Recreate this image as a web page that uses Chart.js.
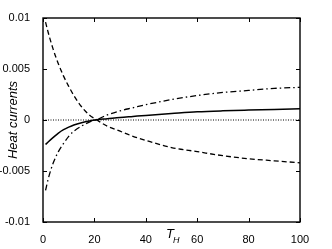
<!DOCTYPE html>
<html>
<head>
<meta charset="utf-8">
<script src="https://cdn.jsdelivr.net/npm/chart.js@4"></script>
<style>
  html, body { margin: 0; padding: 0; background: #fff; }
  #wrap { width: 332px; height: 249px; }
</style>
</head>
<body>
<div id="wrap"><canvas id="myChart" width="332" height="249"></canvas></div>
<script>
// T_H values where the curves were read
const tempH = [1, 2, 4, 6, 8, 10, 12, 15, 18, 21, 25, 30, 35, 40, 50, 60, 70, 80, 90, 100];

// dashed curve
const currDashed = [0.0096, 0.0086, 0.0069, 0.0055, 0.0043, 0.0033, 0.0024, 0.0013, 0.0005, 0.0000,
                    -0.0006, -0.0011, -0.0016, -0.0020, -0.0027, -0.0031, -0.0035, -0.0038, -0.0040, -0.0042];
// solid curve
const currSolid = [-0.0024, -0.00215, -0.0017, -0.00128, -0.00095, -0.0007, -0.00049, -0.00027, -0.0001, 0.00002,
                   0.00012, 0.00025, 0.00035, 0.00045, 0.00063, 0.0008, 0.0009, 0.00097, 0.00103, 0.0011];
// dash-dot curve
const currDashDot = [-0.0069, -0.0058, -0.0042, -0.0031, -0.0023, -0.0016, -0.0011, -0.0006, -0.0002, 0.00005,
                     0.0005, 0.0009, 0.0012, 0.0015, 0.0020, 0.0024, 0.0027, 0.0029, 0.0031, 0.0032];
// dotted zero line
const zeroX = [0, 100];
const zeroY = [0, 0];

const xTicks = [0, 20, 40, 60, 80, 100];
const yTicks = [-0.01, -0.005, 0, 0.005, 0.01];
const yTickLabels = ['-0.01', '-0.005', '0', '0.005', '0.01'];

const fontFam = '"Liberation Sans", Arial, Helvetica, sans-serif';

function pts(xs, ys) {
    return xs.map((x, i) => ({ x: x, y: ys[i] }));
}

// frame, inward ticks and the T_H label
const boxPlugin = {
    id: 'boxPlugin',
    afterDraw(chart) {
        const ctx = chart.ctx;
        const a = chart.chartArea;
        const sx = chart.scales.x, sy = chart.scales.y;
        const tl = 4;
        ctx.save();
        ctx.strokeStyle = '#000';
        ctx.lineWidth = 1.4;
        ctx.setLineDash([]);
        ctx.strokeRect(a.left, a.top, a.right - a.left, a.bottom - a.top);
        ctx.lineWidth = 1;
        ctx.beginPath();
        xTicks.forEach(v => {
            const px = Math.round(sx.getPixelForValue(v)) + 0.5;
            ctx.moveTo(px, a.bottom); ctx.lineTo(px, a.bottom - tl);
            ctx.moveTo(px, a.top); ctx.lineTo(px, a.top + tl);
        });
        yTicks.forEach(v => {
            const py = Math.round(sy.getPixelForValue(v)) + 0.5;
            ctx.moveTo(a.left, py); ctx.lineTo(a.left + tl, py);
            ctx.moveTo(a.right, py); ctx.lineTo(a.right - tl, py);
        });
        ctx.stroke();

        ctx.fillStyle = '#000';
        ctx.textBaseline = 'alphabetic';
        ctx.textAlign = 'left';
        ctx.font = 'italic 13px ' + fontFam;
        ctx.fillText('T', 166, 238);
        ctx.font = 'italic 9px ' + fontFam;
        ctx.fillText('H', 173, 243);
        ctx.restore();
    }
};

const lineBase = {
    borderColor: '#000',
    borderWidth: 1.3,
    pointRadius: 0,
    fill: false,
    cubicInterpolationMode: 'monotone'
};

new Chart(document.getElementById('myChart').getContext('2d'), {
    type: 'line',
    data: {
        datasets: [
            Object.assign({}, lineBase, { label: 'zero', data: pts(zeroX, zeroY), borderWidth: 1, borderDash: [1, 1.5] }),
            Object.assign({}, lineBase, { label: 'dashed', data: pts(tempH, currDashed), borderDash: [5, 3] }),
            Object.assign({}, lineBase, { label: 'solid', data: pts(tempH, currSolid), borderWidth: 1.5 }),
            Object.assign({}, lineBase, { label: 'dashdot', data: pts(tempH, currDashDot), borderDash: [6, 3, 1.5, 3] }),
        ]
    },
    options: {
        responsive: false,
        animation: false,
        layout: { padding: { top: 18, right: 32, left: 0, bottom: 0 } },
        plugins: { legend: { display: false }, tooltip: { enabled: false } },
        scales: {
            x: {
                type: 'linear',
                min: 0, max: 100,
                afterBuildTicks: s => { s.ticks = xTicks.map(v => ({ value: v })); },
                afterFit: s => { s.height = 27; },
                grid: { display: false },
                border: { display: false },
                ticks: { color: '#000', font: { family: fontFam, size: 11 }, padding: 3, maxRotation: 0 }
            },
            y: {
                type: 'linear',
                min: -0.01, max: 0.01,
                afterBuildTicks: s => { s.ticks = yTicks.map(v => ({ value: v })); },
                afterFit: s => { s.width = 43; },
                grid: { display: false },
                border: { display: false },
                title: {
                    display: true,
                    text: 'Heat currents',
                    color: '#000',
                    font: { family: fontFam, size: 13, style: 'italic' },
                    padding: { top: 6, bottom: 0 }
                },
                ticks: {
                    color: '#000',
                    font: { family: fontFam, size: 11 },
                    padding: 5,
                    callback: v => {
                        const i = yTicks.findIndex(t => Math.abs(t - v) < 1e-9);
                        return i >= 0 ? yTickLabels[i] : '';
                    }
                }
            }
        }
    },
    plugins: [boxPlugin]
});
</script>
</body>
</html>
